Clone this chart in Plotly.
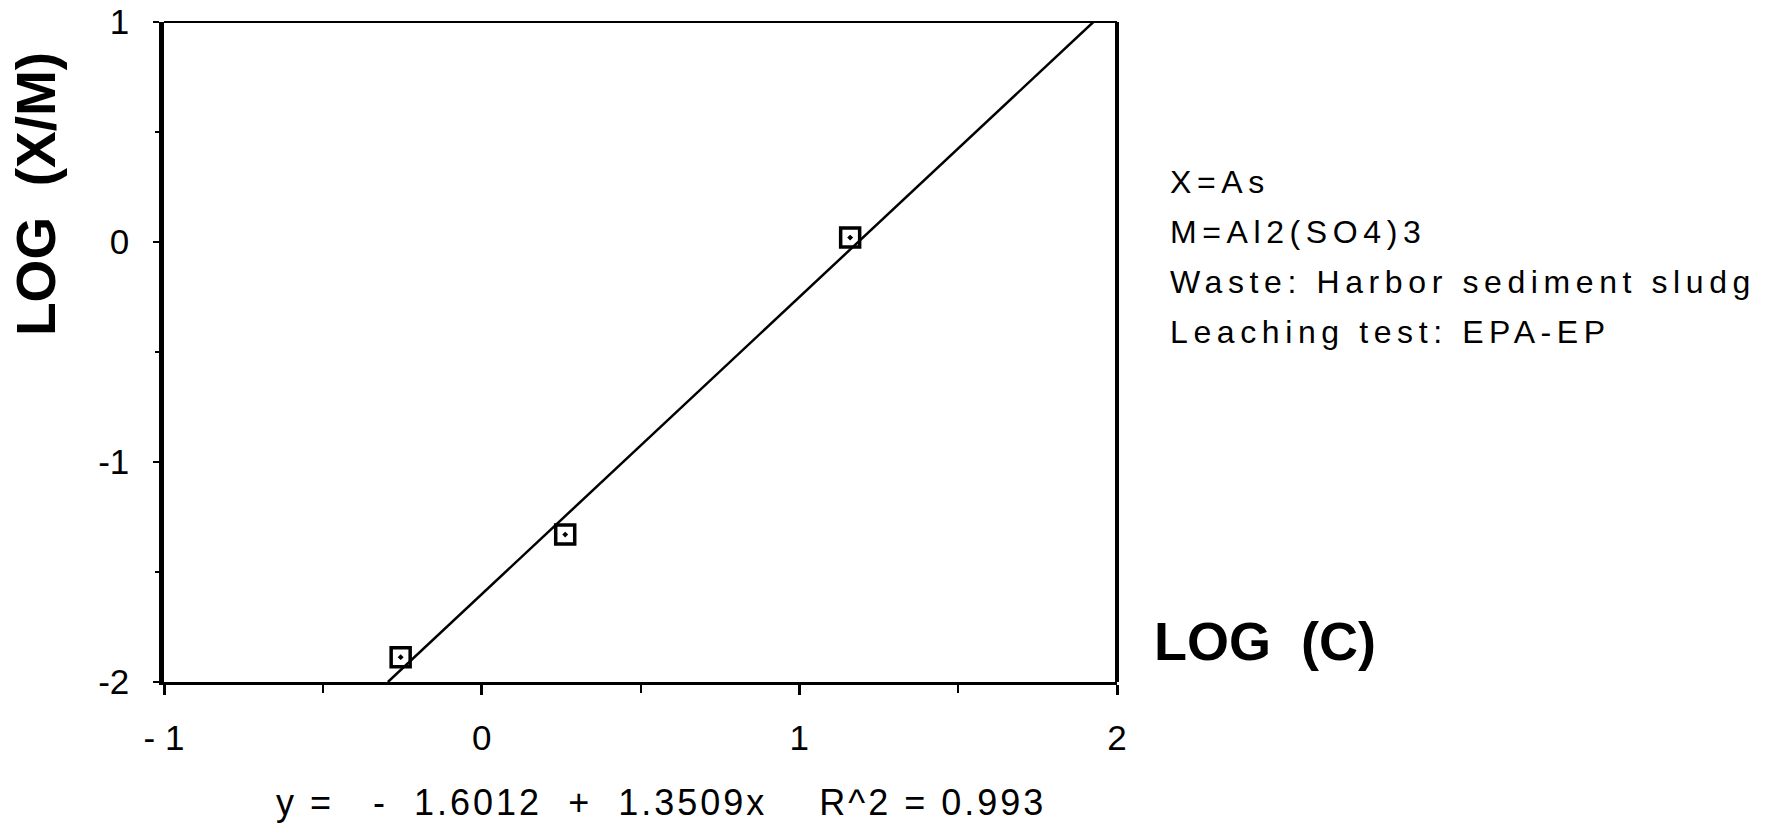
import numpy as np
import plotly.graph_objects as go

# Measured isotherm points
log_c = [-0.255, 0.263, 1.16]
log_xm = [-1.887, -1.33, 0.02]

# Fitted line: y = a + b x
fit_a = -1.6012
fit_b = 1.3509
r_squared = 0.993

x_range = [-1, 2]
y_range = [-2, 1]
x_tickvals = [-1, 0, 1, 2]
x_ticktext = ["- 1", "0", "1", "2"]
y_tickvals = [1, 0, -1, -2]
y_ticktext = ["1", "0", "-1", "-2"]

info_lines = [
    "X=As",
    "M=Al2(SO4)3",
    "Waste: Harbor sediment sludg",
    "Leaching test: EPA-EP",
]

W, H = 1773, 825
ML, MR, MT, MB = 164, 656, 22, 143
PW, PH = W - ML - MR, H - MT - MB


def px(x):
    return (x - ML) / PW


def py(y):
    return (H - MB - y) / PH


def spaced(text, ls):
    return f'<span style="letter-spacing:{ls}px">{text}</span>'


# Fit line clipped to the plotted y range
fit_x = np.array([(y_range[0] - fit_a) / fit_b, (y_range[1] - fit_a) / fit_b])
fit_y = fit_a + fit_b * fit_x

font_main = "Liberation Sans, Arial, sans-serif"
NB = "\u00a0"

fig = go.Figure()
fig.add_trace(go.Scatter(
    x=fit_x, y=fit_y, mode="lines",
    line=dict(color="black", width=2.5),
    hoverinfo="skip", showlegend=False,
))
fig.add_trace(go.Scatter(
    x=log_c, y=log_xm, mode="markers",
    marker=dict(symbol="square-open-dot", size=19, color="black",
                line=dict(color="black", width=3.5)),
    showlegend=False,
))

annotations = []
# equation below the axis
eq = (f"y ={NB*3}-{NB}{NB}1.6012 {NB}+{NB} 1.3509x{NB*4}R^2 = {r_squared}")
annotations.append(dict(
    x=px(274), y=py(802), xref="paper", yref="paper",
    xanchor="left", yanchor="middle", showarrow=False,
    text=spaced(eq, 3), font=dict(family=font_main, size=36, color="black"),
))
# descriptive block on the right
for i, line in enumerate(info_lines):
    annotations.append(dict(
        x=px(1168), y=py(182 + 50 * i), xref="paper", yref="paper",
        xanchor="left", yanchor="middle", showarrow=False,
        text=spaced(line, 5.6), font=dict(family=font_main, size=32, color="black"),
    ))
# axis titles
annotations.append(dict(
    x=px(1152), y=py(641), xref="paper", yref="paper",
    xanchor="left", yanchor="middle", showarrow=False,
    text=f"<b>LOG{NB}{NB}(C)</b>",
    font=dict(family=font_main, size=54, color="black"),
))
annotations.append(dict(
    x=px(36), y=py(194), xref="paper", yref="paper",
    xanchor="center", yanchor="middle", showarrow=False, textangle=-90,
    text=f"<b>LOG{NB}{NB}(X/M)</b>",
    font=dict(family=font_main, size=55, color="black"),
))

fig.update_layout(
    width=W, height=H,
    margin=dict(l=ML, r=MR, t=MT, b=MB, autoexpand=False),
    paper_bgcolor="white", plot_bgcolor="white",
    annotations=annotations,
    shapes=[
        dict(type="line", xref="x domain", yref="y domain",
             x0=0, x1=1, y0=1, y1=1, line=dict(color="black", width=2)),
        dict(type="line", xref="x domain", yref="y domain",
             x0=1, x1=1, y0=0, y1=1, line=dict(color="black", width=4)),
    ],
    xaxis=dict(
        range=x_range, showgrid=False, zeroline=False, automargin=False,
        showline=True, linecolor="black", linewidth=2.5,
        tickmode="array", tickvals=x_tickvals, ticktext=x_ticktext,
        ticks="outside", ticklen=10, tickwidth=2.5, tickcolor="black",
        minor=dict(dtick=0.5, ticks="outside", ticklen=8, tickwidth=2, tickcolor="black"),
        ticklabelstandoff=13, ticklabeloverflow="allow",
        tickfont=dict(family=font_main, size=35, color="black"),
    ),
    yaxis=dict(
        range=y_range, showgrid=False, zeroline=False, automargin=False,
        showline=True, linecolor="black", linewidth=4.5,
        tickmode="array", tickvals=y_tickvals, ticktext=y_ticktext,
        ticks="outside", ticklen=6, tickwidth=1.5, tickcolor="black",
        minor=dict(dtick=0.5, ticks="outside", ticklen=4, tickwidth=1.5, tickcolor="black"),
        ticklabelstandoff=17, ticklabeloverflow="allow",
        tickfont=dict(family=font_main, size=35, color="black"),
    ),
)

fig.write_html("out.html")
